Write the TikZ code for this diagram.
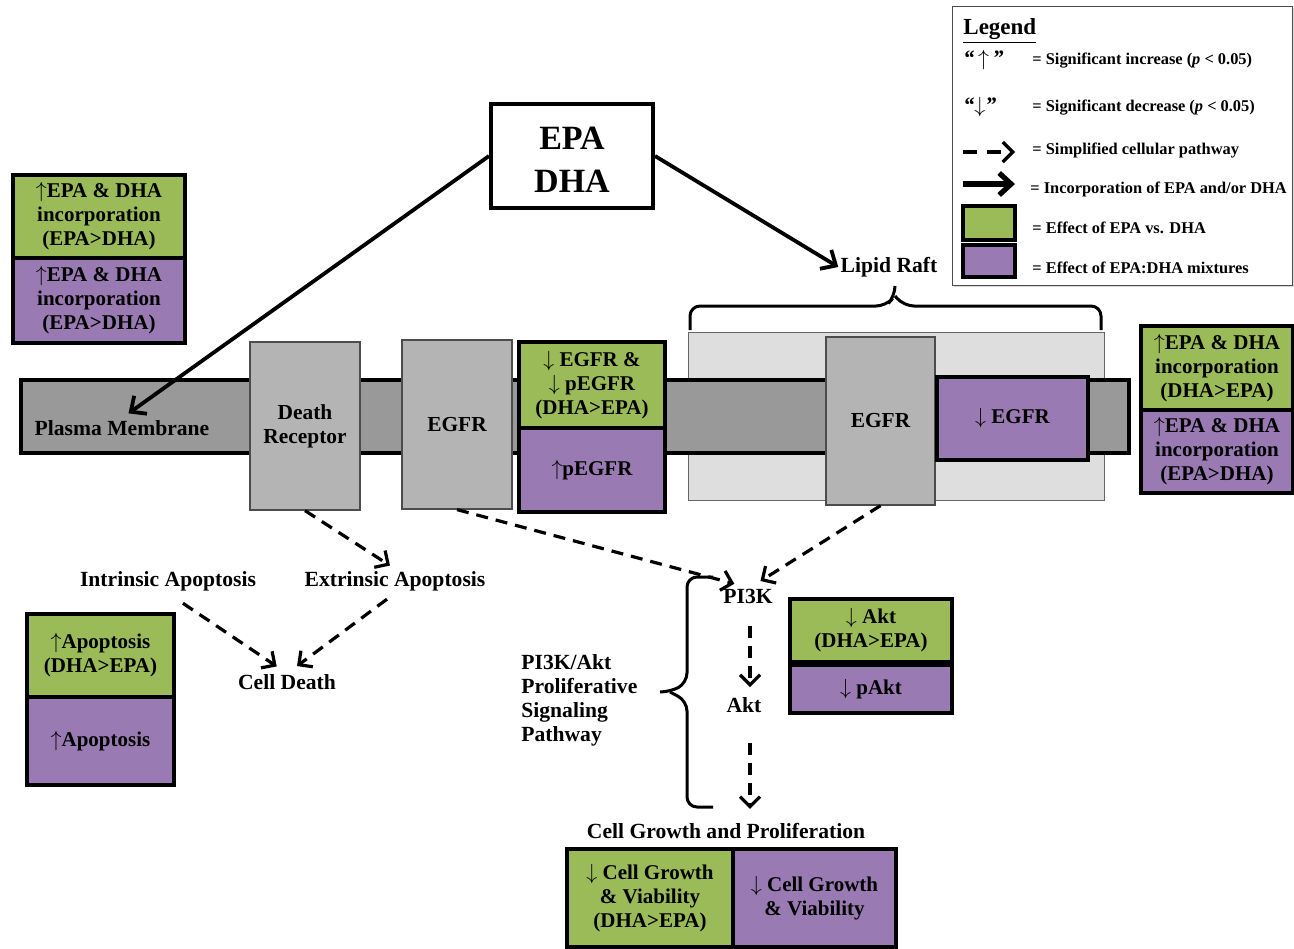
\documentclass[tikz,border=0pt]{standalone}
\usepackage{fontspec}
\setmainfont{Liberation Serif}
\usepackage{tikz}
\usetikzlibrary{shapes,arrows,arrows.meta}
\usetikzlibrary{calc}
\usetikzlibrary{positioning}
\usetikzlibrary{decorations.pathreplacing}
\usetikzlibrary{shadows}
\definecolor{epagreen}{RGB}{155,187,89}
\definecolor{mixpurple}{RGB}{154,122,178}
\definecolor{membranegray}{RGB}{153,153,153}
\definecolor{receptorgray}{RGB}{180,180,180}
\definecolor{raftgray}{RGB}{222,222,222}
\tikzstyle{effect} = [draw, line width=2pt, align=center, inner sep=0pt,
    font=\fontsize{10.5}{12}\selectfont\bfseries,
    drop shadow={opacity=0.3, shadow xshift=1pt, shadow yshift=-1pt}]
\tikzstyle{vsbox} = [effect, fill=epagreen]
\tikzstyle{mixbox} = [effect, fill=mixpurple]
\tikzstyle{receptor} = [draw=black!70, fill=receptorgray, line width=0.6pt,
    align=center, font=\fontsize{10.7}{12}\selectfont\bfseries]
\tikzstyle{tag} = [font=\fontsize{10.8}{12}\selectfont\bfseries, inner sep=1pt]
\tikzstyle{legendtext} = [anchor=west, inner sep=0pt,
    font=\fontsize{8.2}{10}\selectfont\bfseries]
\tikzstyle{pathway} = [-{Straight Barb[length=5pt,width=10pt]}, line width=1.6pt,
    dash pattern=on 6pt off 4pt]
\tikzstyle{incorp} = [-{Straight Barb[length=6pt,width=11pt]}, line width=1.9pt]
\tikzstyle{bracket} = [line width=1.5pt, rounded corners=5pt]

\begin{document}
\begin{tikzpicture}[x=0.5pt, y=-0.5pt, >=latex']
    \useasboundingbox (0,0) rectangle (1294,948);

    % Legend in the top right corner
    \node [draw=black!70, fill=white, minimum width=170pt, minimum height=139.5pt,
        drop shadow={opacity=0.3, shadow xshift=1pt, shadow yshift=-1pt}] (legend) at (1122,145.5) {};
    \node [anchor=west, inner sep=0pt, font=\fontsize{11.5}{12}\selectfont\bfseries] (legendtitle) at (963,31) {\underline{Legend}};
    \node [legendtext, font=\fontsize{11}{12}\selectfont\bfseries] (upsym) at (963,60) {\textit{“}\,$\uparrow$\,\textit{”}};
    \node [legendtext] (uptext) at (1032,61) {= Significant increase (\textit{p} < 0.05)};
    \node [legendtext, font=\fontsize{11}{12}\selectfont\bfseries] (downsym) at (963,107) {\textit{“}$\downarrow$\textit{”}};
    \node [legendtext] (downtext) at (1032,108) {= Significant decrease (\textit{p} < 0.05)};
    \coordinate (dashstart) at (963,152);
    \coordinate (dashend) at (1015,152);
    \draw [pathway, dash pattern=on 7pt off 5pt] (dashstart) -- (dashend);
    \node [legendtext] (dashtext) at (1032,150) {= Simplified cellular pathway};
    \coordinate (solidstart) at (963,184);
    \coordinate (solidend) at (1015,184);
    \draw [incorp, line width=2.6pt] (solidstart) -- (solidend);
    \node [legendtext] (solidtext) at (1030,189) {= Incorporation of EPA and/or DHA};
    \node [vsbox, minimum width=26pt, minimum height=17pt] (legendvs) at (989,223) {};
    \node [legendtext] (vstext) at (1032,228) {= Effect of EPA vs. DHA};
    \node [mixbox, minimum width=26pt, minimum height=16pt] (legendmix) at (989,261) {};
    \node [legendtext] (mixtext) at (1032,268) {= Effect of EPA:DHA mixtures};

    % The fatty acids
    \node [draw, line width=2pt, fill=white, minimum width=81pt, minimum height=52pt] (epadha) at (572,156) {};
    \node [align=center, font=\fontsize{17}{21.5}\selectfont\bfseries] (epatext)
        at ([yshift=-2pt]epadha.center) {EPA\\DHA};

    % Lipid raft behind the membrane
    \node [draw=black!60, fill=raftgray, line width=0.5pt, minimum width=208pt,
        minimum height=84pt] (raft) at (896,416) {};
    \coordinate (raftleft) at (690,330);
    \coordinate (raftright) at (1101,330);
    \coordinate (rafttip) at (895,286);
    \draw [bracket] (raftleft) |- ($(rafttip)+(-9,20)$) -- ([yshift=-5pt]rafttip) -- (rafttip);
    \draw [bracket] (raftright) |- ($(rafttip)+(9,20)$) -- ([yshift=-5pt]rafttip);
    \node [tag] (lipidraft) at (889,267) {Lipid Raft};

    % Plasma membrane and its receptors
    \node [draw, line width=2pt, fill=membranegray, minimum width=554pt,
        minimum height=36.5pt] (membrane) at (575,416.5) {};
    \node [tag] (plasma) at (122,428) {Plasma Membrane};
    \node [receptor, minimum width=55pt, minimum height=84pt] (deathrec) at (305,426) {Death\\Receptor};
    \node [receptor, minimum width=55pt, minimum height=84.5pt] (egfr) at (457,424.5) {EGFR};
    \node [vsbox, minimum width=73pt, minimum height=43pt] (egfrdown) at (592,385)
        {$\downarrow$ EGFR \&\\$\downarrow$ pEGFR\\(DHA>EPA)};
    \node [mixbox, minimum width=73pt, minimum height=42pt] (pegfrup) at (592,470) {$\uparrow$pEGFR};
    \node [receptor, minimum width=54.5pt, minimum height=84pt] (raftegfr) at (880.5,421) {EGFR};
    \node [mixbox, minimum width=75.5pt, minimum height=41.5pt] (raftdown) at (1012.5,418.5) {$\downarrow$ EGFR};

    % Incorporation boxes at both ends
    \node [vsbox, minimum width=86pt, minimum height=41.5pt] (leftvs) at (99,216.5)
        {$\uparrow$EPA \& DHA\\incorporation\\(EPA>DHA)};
    \node [mixbox, minimum width=86pt, minimum height=42.5pt] (leftmix) at (99,300.5)
        {$\uparrow$EPA \& DHA\\incorporation\\(EPA>DHA)};
    \node [vsbox, minimum width=76pt, minimum height=42pt] (rightvs) at (1217,368)
        {$\uparrow$EPA \& DHA\\incorporation\\(DHA>EPA)};
    \node [mixbox, minimum width=76pt, minimum height=41.5pt] (rightmix) at (1217,451.5)
        {$\uparrow$EPA \& DHA\\incorporation\\(EPA>DHA)};

    % Apoptosis side
    \node [tag] (intrinsic) at (168,581) {Intrinsic Apoptosis};
    \node [tag] (extrinsic) at (395,581) {Extrinsic Apoptosis};
    \node [tag] (celldeath) at (287,682) {Cell Death};
    \node [vsbox, minimum width=73.5pt, minimum height=41.5pt] (apopvs) at (100.5,655.5)
        {$\uparrow$Apoptosis\\(DHA>EPA)};
    \node [mixbox, minimum width=73.5pt, minimum height=44pt] (apopmix) at (100.5,741) {$\uparrow$Apoptosis};

    % Proliferative side
    \node [tag] (pi3k) at (748,596) {PI3K};
    \node [tag] (akt) at (744,705) {Akt};
    \node [vsbox, minimum width=81pt, minimum height=31.5pt] (aktvs) at (871,630.5) {$\downarrow$ Akt\\(DHA>EPA)};
    \node [mixbox, minimum width=81pt, minimum height=24pt] (aktmix) at (871,689) {$\downarrow$ pAkt};
    \node [tag] (growth) at (726,831) {Cell Growth and Proliferation};
    \node [vsbox, minimum width=83pt, minimum height=49pt] (growthvs) at (650,898)
        {$\downarrow$ Cell Growth\\\& Viability\\(DHA>EPA)};
    \node [mixbox, minimum width=81.5pt, minimum height=49pt] (growthmix) at (814.5,898)
        {$\downarrow$ Cell Growth\\\& Viability};
    \node [tag, align=left, anchor=west] (pathwaylabel) at (519,700)
        {PI3K/Akt\\Proliferative\\Signaling\\Pathway};
    \coordinate (bracetop) at (713,577);
    \coordinate (bracebottom) at (713,807);
    \coordinate (bracetip) at (660,692);
    \draw [bracket] (bracetop) -| ($(bracetip)+(27,-9)$) -- ([xshift=5pt]bracetip) -- (bracetip);
    \draw [bracket] (bracebottom) -| ($(bracetip)+(27,9)$) -- ([xshift=5pt]bracetip);

    % Incorporation of EPA and DHA
    \draw [incorp, shorten >=4pt] (epadha.west) -- (plasma.north);
    \draw [incorp] (epadha.east) -- (lipidraft.west);

    % Signalling steps
    \draw [pathway, shorten >=3pt] (deathrec.south) -- (extrinsic.north);
    \draw [pathway, shorten >=5pt] (egfr.south) -- ([xshift=-2pt]pi3k.north);
    \draw [pathway, shorten >=5pt] (raftegfr.south) -- ([xshift=2pt]pi3k.north);
    \draw [pathway, shorten <=9pt, shorten >=5pt] (intrinsic.south) -- ([xshift=-1pt]celldeath.north);
    \draw [pathway, shorten <=5pt, shorten >=5pt] (extrinsic.south) -- ([xshift=1pt]celldeath.north);
    \draw [pathway, shorten <=10pt, shorten >=4pt] ([xshift=1pt]pi3k.south) -- ([xshift=3pt]akt.north);
    \draw [pathway, shorten <=14pt, shorten >=6pt] ([xshift=3pt]akt.south) -- ([xshift=12pt]growth.north);
\end{tikzpicture}
\end{document}
